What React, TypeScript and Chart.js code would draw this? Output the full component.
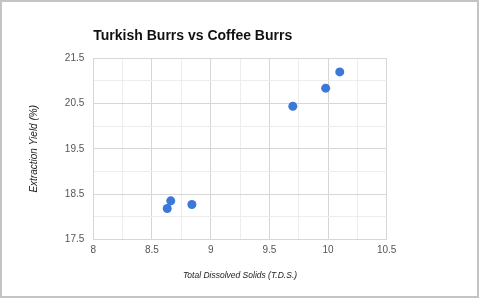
import React, { useEffect, useRef } from "react";
import { Chart, registerables } from "chart.js";

Chart.register(...registerables);

const tdsValues = [10.1, 9.98, 9.7, 8.66, 8.63, 8.84];
const yieldValues = [21.2, 20.84, 20.44, 18.35, 18.18, 18.27];
const chartTitle = "Turkish Burrs vs Coffee Burrs";
const xTitle = "Total Dissolved Solids (T.D.S.)";
const yTitle = "Extraction Yield (%)";

const FONT = "'Liberation Sans', Arial, sans-serif";
const MAJOR = "#d6d6d6";
const MINOR = "#ededed";

export default function App() {
  const ref = useRef<HTMLCanvasElement | null>(null);

  useEffect(() => {
    if (!ref.current) return;
    const points = tdsValues.map((x, i) => ({ x, y: yieldValues[i] }));
    const chart = new Chart(ref.current, {
      type: "scatter",
      data: {
        datasets: [
          {
            data: points,
            backgroundColor: "#3c78d8",
            borderWidth: 0,
            pointRadius: 4.5,
            pointHoverRadius: 4.5,
          },
        ],
      },
      options: {
        animation: false,
        responsive: true,
        maintainAspectRatio: false,
        layout: { padding: { left: 0, right: 93.3, top: 0, bottom: 9.7 } },
        plugins: {
          legend: { display: false },
          tooltip: { enabled: false },
          title: {
            display: true,
            text: chartTitle,
            align: "start",
            fullSize: false,
            color: "#111",
            font: { family: FONT, size: 14, weight: "bold" },
            padding: { top: 27.6, bottom: 13.9 },
          },
        },
        scales: {
          x: {
            type: "linear",
            min: 8,
            max: 10.5,
            afterFit: (s: any) => {
              s.height = 50;
            },
            ticks: {
              stepSize: 0.25,
              color: "#555",
              font: { family: FONT, size: 10 },
              padding: 5,
              maxRotation: 0,
              autoSkip: false,
              callback: (v: any, i: number) => (i % 2 === 0 ? String(v) : ""),
            },
            grid: {
              drawTicks: false,
              color: (c: any) => (c.index % 2 === 0 ? MAJOR : MINOR),
            },
            border: { color: MAJOR },
            title: {
              display: true,
              text: xTitle,
              color: "#222",
              font: { family: FONT, size: 8.5, style: "italic" },
              padding: { top: 0, bottom: 8.2 },
            },
          },
          y: {
            type: "linear",
            min: 17.5,
            max: 21.5,
            afterFit: (s: any) => {
              s.width = 93.3;
            },
            ticks: {
              stepSize: 0.5,
              color: "#555",
              font: { family: FONT, size: 10 },
              padding: 9,
              autoSkip: false,
              callback: (v: any, i: number) => (i % 2 === 0 ? String(v) : ""),
            },
            grid: {
              drawTicks: false,
              color: (c: any) => (c.index % 2 === 0 ? MAJOR : MINOR),
            },
            border: { color: MAJOR },
            title: {
              display: true,
              text: yTitle,
              color: "#222",
              font: { family: FONT, size: 10, style: "italic" },
              padding: { top: 28.5, bottom: 0 },
            },
          },
        },
      },
    });
    return () => chart.destroy();
  }, []);

  return (
    <div
      style={{
        position: "fixed",
        left: 0,
        top: 0,
        width: 480,
        height: 299,
        background: "#fff",
      }}
    >
      <canvas ref={ref} />
      <div
        style={{
          position: "absolute",
          left: 0,
          top: 0,
          width: 479,
          height: 298,
          border: "2px solid #c4c4c4",
          boxSizing: "border-box",
          pointerEvents: "none",
        }}
      />
    </div>
  );
}
